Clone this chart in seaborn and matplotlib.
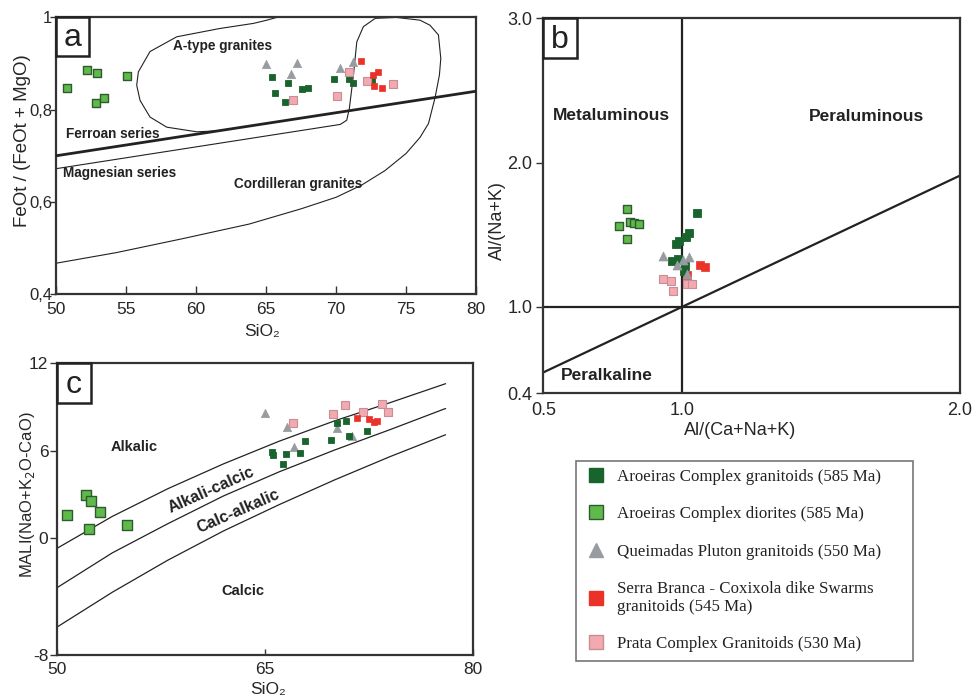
import matplotlib
matplotlib.use("Agg")
import pandas as pd
import matplotlib.pyplot as plt
import seaborn as sns
from matplotlib.lines import Line2D
from matplotlib.patches import Rectangle

sns.set_theme(style="white")
plt.rcParams["font.family"] = ["Liberation Sans", "DejaVu Sans"]
plt.rcParams["axes.unicode_minus"] = False

# ---- legend groups ----
GROUPS = [
    "Aroeiras Complex granitoids (585 Ma)",
    "Aroeiras Complex diorites (585 Ma)",
    "Queimadas Pluton granitoids (550 Ma)",
    "Serra Branca - Coxixola dike Swarms\ngranitoids (545 Ma)",
    "Prata Complex Granitoids (530 Ma)",
]

# ---- panel a : SiO2 vs FeOt/(FeOt+MgO) ----
gran_a_x = [65.45, 66.57, 65.62, 66.38, 67.59, 67.98, 69.88, 70.93, 71.21, 72.55]
gran_a_y = [0.871, 0.858, 0.836, 0.817, 0.844, 0.847, 0.866, 0.866, 0.858, 0.862]
dior_a_x = [50.8, 52.2, 52.96, 52.86, 53.46, 55.06]
dior_a_y = [0.847, 0.887, 0.879, 0.815, 0.825, 0.872]
queim_a_x = [65.0, 67.19, 66.79, 70.31, 71.24]
queim_a_y = [0.900, 0.902, 0.878, 0.890, 0.903]
serra_a_x = [71.76, 72.62, 72.98, 72.71, 73.29]
serra_a_y = [0.905, 0.876, 0.882, 0.851, 0.848]
prata_a_x = [66.95, 70.07, 70.91, 72.24, 74.07]
prata_a_y = [0.820, 0.830, 0.882, 0.862, 0.855]

ferroan_x = [50, 80]
ferroan_y = [0.70, 0.84]

atype_x = [65.76, 65.05, 64.09, 61.7, 58.62, 56.71, 55.88, 55.76, 56.0, 56.71,
           57.91, 60.05, 61.5]
atype_y = [1.0, 0.994, 0.987, 0.976, 0.958, 0.926, 0.882, 0.853, 0.820, 0.784,
           0.762, 0.752, 0.754]

cord_x = [50.0, 70.3, 70.76, 70.95, 71.24, 71.48, 71.95, 72.8, 74.3, 76.0, 76.71,
          77.31, 77.48, 77.38, 77.07, 76.6, 76.0, 75.0, 73.5, 71.8, 70.0, 67.5,
          63.8, 59.0, 54.3, 50.0]
cord_y = [0.672, 0.768, 0.777, 0.803, 0.875, 0.947, 0.98, 0.998, 1.0, 0.994, 0.983,
          0.962, 0.911, 0.875, 0.826, 0.77, 0.74, 0.705, 0.668, 0.636, 0.610, 0.585,
          0.552, 0.52, 0.49, 0.467]

# ---- panel b : A/CNK vs A/NK ----
gran_b_x = [1.053, 1.023, 1.013, 0.989, 0.977, 0.962, 0.986, 1.01, 1.006]
gran_b_y = [1.648, 1.513, 1.481, 1.458, 1.435, 1.319, 1.329, 1.282, 1.25]
dior_b_x = [0.80, 0.773, 0.812, 0.826, 0.845, 0.802]
dior_b_y = [1.675, 1.558, 1.59, 1.583, 1.573, 1.47]
queim_b_x = [0.932, 1.023, 0.982, 1.001, 1.018]
queim_b_y = [1.352, 1.343, 1.287, 1.324, 1.227]
serra_b_x = [1.064, 1.081, 1.016]
serra_b_y = [1.289, 1.273, 1.22]
prata_b_x = [0.929, 0.959, 0.965, 1.016, 1.034]
prata_b_y = [1.19, 1.176, 1.111, 1.157, 1.157]

peralk_x = [0.5, 2.0]
peralk_y = [0.545, 1.91]

# ---- panel c : SiO2 vs MALI ----
gran_c_x = [65.48, 65.55, 66.27, 66.51, 67.52, 67.88, 69.75, 70.21, 70.81, 71.02, 72.32]
gran_c_y = [5.94, 5.69, 5.10, 5.78, 5.87, 6.70, 6.74, 7.89, 8.05, 7.04, 7.34]
dior_c_x = [50.77, 52.11, 52.45, 53.12, 52.35, 55.04]
dior_c_y = [1.62, 2.97, 2.58, 1.78, 0.64, 0.94]
queim_c_x = [65.0, 66.61, 67.09, 70.21, 71.24]
queim_c_y = [8.62, 7.61, 6.29, 7.54, 7.02]
serra_c_x = [71.65, 72.51, 72.85, 73.04]
serra_c_y = [8.23, 8.16, 8.0, 8.07]
prata_c_x = [66.99, 69.92, 70.76, 72.08, 73.45, 73.83]
prata_c_y = [7.89, 8.53, 9.12, 8.66, 9.21, 8.66]

mali_x = [50, 54, 58, 62, 66, 70, 74, 78]
alkalic_y = [-0.7, 1.5, 3.4, 5.1, 6.65, 8.05, 9.3, 10.6]
alkcalc_y = [-3.4, -1.0, 1.0, 2.9, 4.55, 6.05, 7.45, 8.9]
calcalk_y = [-6.1, -3.7, -1.5, 0.5, 2.3, 4.0, 5.6, 7.1]

# ---- styles ----
STYLE = {
    "gran": dict(marker="s", face="#19642d", edge="#19642d", lw=0.6),
    "dior": dict(marker="s", face="#5fb94b", edge="#2f5a2f", lw=1.0),
    "queim": dict(marker="^", face="#989ca1", edge="#989ca1", lw=0.5),
    "serra": dict(marker="s", face="#eb3228", edge="#eb3228", lw=0.5),
    "prata": dict(marker="s", face="#f2aab0", edge="#c98e95", lw=0.8),
}
KEYS = ["gran", "dior", "queim", "serra", "prata"]

INK = "#222222"
SPINE = "#333333"


def draw_points(ax, xs, ys, key, size):
    st = STYLE[key]
    df = pd.DataFrame({"x": xs, "y": ys})
    sns.scatterplot(
        data=df, x="x", y="y", ax=ax,
        marker=st["marker"], color=st["face"],
        edgecolor=st["edge"], linewidth=st["lw"],
        s=size, legend=False, zorder=4
    )


def panel_tag(ax, letter, w, h):
    ax.add_patch(Rectangle((0, 1 - h), w, h, transform=ax.transAxes,
                           fill=False, lw=1.8, edgecolor=INK, zorder=6,
                           clip_on=False))
    ax.text(w / 2, 1 - h / 2 - 0.005, letter, transform=ax.transAxes,
            ha="center", va="center", fontsize=23, color=INK, zorder=7)


def frame(ax):
    for s in ax.spines.values():
        s.set_visible(True)
        s.set_linewidth(1.6)
        s.set_color(SPINE)
    ax.set_xlabel("")
    ax.set_ylabel("")


fig = plt.figure(figsize=(9.73, 6.97), dpi=100)

ax_a = fig.add_axes([0.0576, 0.578, 0.4317, 0.397])
ax_b = fig.add_axes([0.5584, 0.4357, 0.4283, 0.538])
ax_c = fig.add_axes([0.0583, 0.0603, 0.4282, 0.4185])

# ---------- panel a ----------
ax_a.plot(atype_x, atype_y, color=INK, lw=0.8, zorder=2)
ax_a.plot(cord_x, cord_y, color=INK, lw=0.8, zorder=2)
ax_a.plot(ferroan_x, ferroan_y, color=INK, lw=2.0, zorder=3)

size_a = {"gran": 20, "dior": 30, "queim": 36, "serra": 20, "prata": 26}
draw_points(ax_a, dior_a_x, dior_a_y, "dior", size_a["dior"])
draw_points(ax_a, gran_a_x, gran_a_y, "gran", size_a["gran"])
draw_points(ax_a, queim_a_x, queim_a_y, "queim", size_a["queim"])
draw_points(ax_a, prata_a_x, prata_a_y, "prata", size_a["prata"])
draw_points(ax_a, serra_a_x, serra_a_y, "serra", size_a["serra"])

frame(ax_a)
ax_a.set_xlim(50, 80)
ax_a.set_ylim(0.4, 1.0)
ax_a.set_xticks([50, 55, 60, 65, 70, 75, 80])
ax_a.set_yticks([0.4, 0.6, 0.8, 1.0])
ax_a.set_yticklabels(["0,4", "0,6", "0,8", "1"])
ax_a.tick_params(axis="x", direction="in", length=6, width=1.0, color=SPINE,
                 bottom=True, labelsize=12.5, pad=6)
ax_a.tick_params(axis="y", direction="out", length=4, width=1.0, color=SPINE,
                 left=True, labelsize=12, pad=-1)
ax_a.set_xlabel("SiO₂", fontsize=12.5, va="center")
ax_a.xaxis.set_label_coords(0.49, -0.134)
ax_a.set_ylabel("FeOt / (FeOt + MgO)", fontsize=13.5, va="center")
ax_a.yaxis.set_label_coords(-0.081, 0.556)

bold_a = dict(fontsize=9.8, fontweight="bold", color=INK, ha="center", va="center")
ax_a.text(61.86, 0.937, "A-type granites", **bold_a)
ax_a.text(54.06, 0.748, "Ferroan series", **bold_a)
ax_a.text(54.51, 0.663, "Magnesian series", **bold_a)
ax_a.text(67.3, 0.638, "Cordilleran granites", **bold_a)
panel_tag(ax_a, "a", 0.0786, 0.141)

# ---------- panel b ----------
ax_b.axvline(1.0, color=INK, lw=1.6, zorder=2)
ax_b.axhline(1.0, color=INK, lw=1.6, zorder=2)
ax_b.plot(peralk_x, peralk_y, color=INK, lw=1.6, zorder=2)

size_b = {"gran": 36, "dior": 34, "queim": 42, "serra": 30, "prata": 34}
draw_points(ax_b, dior_b_x, dior_b_y, "dior", size_b["dior"])
draw_points(ax_b, serra_b_x, serra_b_y, "serra", size_b["serra"])
draw_points(ax_b, gran_b_x, gran_b_y, "gran", size_b["gran"])
draw_points(ax_b, queim_b_x, queim_b_y, "queim", size_b["queim"])
draw_points(ax_b, prata_b_x, prata_b_y, "prata", size_b["prata"])

frame(ax_b)
ax_b.set_xlim(0.5, 2.0)
ax_b.set_ylim(0.4, 3.0)
ax_b.set_xticks([0.5, 1.0, 2.0])
ax_b.set_xticklabels(["0.5", "1.0", "2.0"])
ax_b.set_yticks([0.4, 1.0, 2.0, 3.0])
ax_b.set_yticklabels(["0.4", "1.0", "2.0", "3.0"])
ax_b.tick_params(axis="x", length=0, bottom=True, labelsize=13, pad=6)
ax_b.tick_params(axis="y", direction="out", length=5, width=1.0, color=SPINE,
                 left=True, labelsize=13, pad=3)
ax_b.set_xlabel("Al/(Ca+Na+K)", fontsize=13, va="center")
ax_b.xaxis.set_label_coords(0.472, -0.098)
ax_b.set_ylabel("Al/(Na+K)", fontsize=13, va="center")
ax_b.yaxis.set_label_coords(-0.109, 0.46)

bold_b = dict(fontsize=12.5, fontweight="bold", color=INK, ha="center", va="center")
ax_b.text(0.746, 2.325, "Metaluminous", **bold_b)
ax_b.text(1.663, 2.318, "Peraluminous", **bold_b)
ax_b.text(0.728, 0.526, "Peralkaline", **bold_b)
panel_tag(ax_b, "b", 0.0815, 0.107)

# ---------- panel c ----------
ax_c.plot(mali_x, alkalic_y, color=INK, lw=0.9, zorder=2)
ax_c.plot(mali_x, alkcalc_y, color=INK, lw=0.9, zorder=2)
ax_c.plot(mali_x, calcalk_y, color=INK, lw=0.9, zorder=2)

size_c = {"gran": 24, "dior": 50, "queim": 36, "serra": 20, "prata": 30}
draw_points(ax_c, dior_c_x, dior_c_y, "dior", size_c["dior"])
draw_points(ax_c, queim_c_x, queim_c_y, "queim", size_c["queim"])
draw_points(ax_c, gran_c_x, gran_c_y, "gran", size_c["gran"])
draw_points(ax_c, prata_c_x, prata_c_y, "prata", size_c["prata"])
draw_points(ax_c, serra_c_x, serra_c_y, "serra", size_c["serra"])

frame(ax_c)
ax_c.set_xlim(50, 80)
ax_c.set_ylim(-8, 12)
ax_c.set_xticks([50, 65, 80])
ax_c.set_yticks([-8, 0, 6, 12])
ax_c.tick_params(axis="x", direction="in", length=4, width=1.0, color=SPINE,
                 bottom=True, labelsize=12.5, pad=5)
ax_c.tick_params(axis="y", direction="out", length=5, width=1.0, color=SPINE,
                 left=True, labelsize=12.5, pad=1)
ax_c.set_xlabel("SiO₂", fontsize=12.5, va="center")
ax_c.xaxis.set_label_coords(0.507, -0.117)
ax_c.set_ylabel("MALI(NaO+K$_2$O-CaO)", fontsize=12, va="center")
ax_c.yaxis.set_label_coords(-0.071, 0.549)

bold_c = dict(fontsize=10.5, fontweight="bold", color=INK, ha="center", va="center")
ax_c.text(55.59, 6.29, "Alkalic", **bold_c)
ax_c.text(61.09, 3.31, "Alkali-calcic", rotation=24, fontsize=11.5,
          fontweight="bold", color=INK, ha="center", va="center")
ax_c.text(63.08, 1.83, "Calc-alkalic", rotation=23.5, fontsize=11.5,
          fontweight="bold", color=INK, ha="center", va="center")
ax_c.text(63.37, -3.59, "Calcic", **bold_c)
panel_tag(ax_c, "c", 0.0815, 0.137)

# ---------- legend ----------
handles = []
for key in KEYS:
    st = STYLE[key]
    handles.append(Line2D([], [], marker=st["marker"], linestyle="none",
                          markersize=10, markerfacecolor=st["face"],
                          markeredgecolor=st["edge"],
                          markeredgewidth=max(st["lw"], 1.0)))

leg = fig.legend(
    handles, GROUPS,
    loc="upper left",
    bbox_to_anchor=(0.592, 0.049, 0.3464, 0.29),
    mode="expand",
    frameon=True,
    fancybox=False,
    prop={"family": "Liberation Serif", "size": 12.2},
    labelspacing=1.25,
    handlelength=1.4,
    handletextpad=0.5,
    borderpad=0.5,
    borderaxespad=0,
)
leg.get_frame().set_edgecolor("#555555")
leg.get_frame().set_linewidth(1.2)
for t in leg.get_texts():
    t.set_color(INK)

fig.savefig("out.png", dpi=100)
